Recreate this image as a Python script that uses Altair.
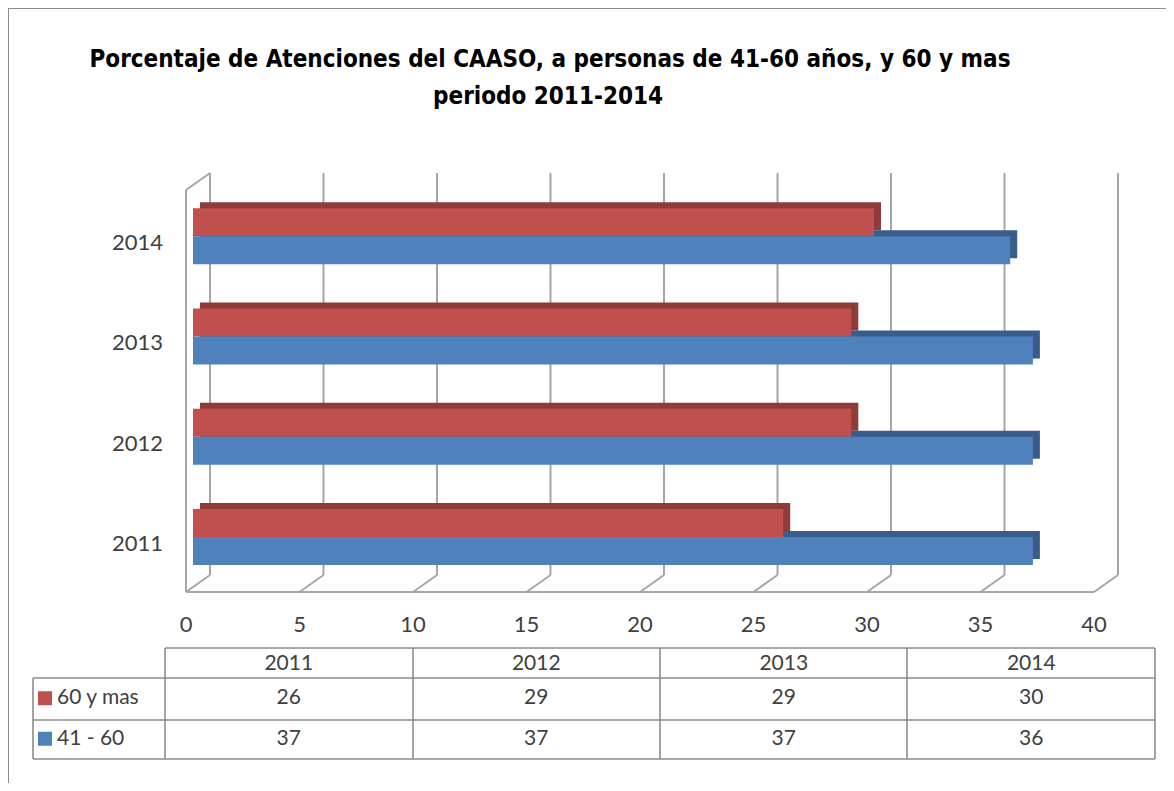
import altair as alt
import pandas as pd

# ---------------- data ----------------
years = ["2011", "2012", "2013", "2014"]
series = ["60 y mas", "41 - 60"]
mas60 = [26, 29, 29, 30]
v41_60 = [37, 37, 37, 36]
ticks = [0, 5, 10, 15, 20, 25, 30, 35, 40]
title_lines = ["Porcentaje de Atenciones del CAASO, a personas de 41-60 años, y 60 y mas",
               "periodo 2011-2014"]

RED, RED_D = "#c0504d", "#8e3b39"
BLUE, BLUE_D = "#4f81bd", "#385d8a"
GRID = "#a6a6a6"
TXT = "#404040"
FONT = "Lato"
TFONT = "Liberation Sans Narrow, DejaVu Sans Condensed, Liberation Sans"

W, H = 1158, 775

df_red = pd.DataFrame({"year": years, "value": mas60, "series": series[0]})
df_blue = pd.DataFrame({"year": years, "value": v41_60, "series": series[1]})
df_long = pd.concat([df_red, df_blue], ignore_index=True)
df_ticks = pd.DataFrame({"t": ticks})
df_span = pd.DataFrame({"a": [ticks[0]], "b": [ticks[-1]]})
df_years = pd.DataFrame({"year": years})
df_series = pd.DataFrame({"series": series})
one = pd.DataFrame({"d": [0]})

xs = alt.Scale(domain=[0, 40], range=[185, 1093], nice=False, zero=True)
ys = alt.Scale(domain=years[::-1], range=[178, 579], paddingInner=0, paddingOuter=0)

X = lambda f: alt.X(f, type="quantitative", scale=xs, axis=None)
Y = alt.Y("year:O", scale=ys, axis=None)

# ---------------- 3D frame (walls / floor / gridlines) ----------------
grid = alt.Chart(df_ticks).mark_rule(color=GRID, strokeWidth=2, xOffset=17).encode(
    x=X("t"), y=alt.value(165), y2=alt.value(567))
diag = alt.Chart(df_ticks).mark_rule(color=GRID, strokeWidth=2, xOffset=-7, x2Offset=17).encode(
    x=X("t"), x2=alt.X2("t"), y=alt.value(584), y2=alt.value(567))
floor = alt.Chart(df_span).mark_rule(color=GRID, strokeWidth=2, xOffset=-7, x2Offset=-7).encode(
    x=X("a"), x2=alt.X2("b"), y=alt.value(584))
wallv = alt.Chart(df_span).mark_rule(color=GRID, strokeWidth=2, xOffset=-7).encode(
    x=X("a"), y=alt.value(182), y2=alt.value(584))
walld = alt.Chart(df_span).mark_rule(color=GRID, strokeWidth=2, xOffset=-7, x2Offset=17).encode(
    x=X("a"), x2=alt.X2("a"), y=alt.value(182), y2=alt.value(165))

# ---------------- bars with pseudo-3D faces ----------------
sh_red = alt.Chart(df_red).mark_bar(height=28, yOffset=-20, xOffset=7, x2Offset=7, color=RED_D).encode(
    x=X("value"), y=Y)
sh_blue = alt.Chart(df_blue).mark_bar(height=28, yOffset=8, xOffset=7, x2Offset=7, color=BLUE_D).encode(
    x=X("value"), y=Y)
b_red = alt.Chart(df_red).mark_bar(height=28, yOffset=-14, color=RED).encode(x=X("value"), y=Y)
b_blue = alt.Chart(df_blue).mark_bar(height=28, yOffset=14, color=BLUE).encode(x=X("value"), y=Y)

tick_lbl = alt.Chart(df_ticks).mark_text(font=FONT, fontSize=22, color=TXT, xOffset=-7,
                                         baseline="middle").encode(
    x=X("t"), y=alt.value(617), text=alt.Text("t:Q"))
year_lbl = alt.Chart(df_years).mark_text(font=FONT, fontSize=22, color=TXT, align="right",
                                         baseline="middle", yOffset=7).encode(
    x=alt.value(155), y=Y, text="year:N")

plot = alt.layer(grid, diag, floor, wallv, walld, sh_red, sh_blue, b_red, b_blue, tick_lbl, year_lbl)

# ---------------- data table ----------------
xt = alt.Scale(domain=years, range=[157, 1147], paddingInner=0, paddingOuter=0)
yt = alt.Scale(domain=series, range=[670, 751], paddingInner=0, paddingOuter=0)
hdr = alt.Chart(df_years).mark_text(font=FONT, fontSize=21, color=TXT, baseline="middle").encode(
    x=alt.X("year:N", scale=xt, axis=None), y=alt.value(656), text="year:N")
vals = alt.Chart(df_long).mark_text(font=FONT, fontSize=21, color=TXT, baseline="middle").encode(
    x=alt.X("year:N", scale=xt, axis=None), y=alt.Y("series:N", scale=yt, axis=None),
    text="value:Q")
leg_sq = alt.Chart(df_series).mark_square(size=196, opacity=1).encode(
    x=alt.value(37), y=alt.Y("series:N", scale=yt, axis=None),
    color=alt.Color("series:N", scale=alt.Scale(domain=series, range=[RED, BLUE]), legend=None))
leg_tx = alt.Chart(df_series).mark_text(font=FONT, fontSize=21, color=TXT, align="left",
                                        baseline="middle").encode(
    x=alt.value(49), y=alt.Y("series:N", scale=yt, axis=None), text="series:N")
table = alt.layer(hdr, vals, leg_sq, leg_tx)

# ---------------- decorations: table grid, frame, title ----------------
LC = "#8c8c8c"
def hline(y, x1, x2):
    return alt.Chart(one).mark_rule(color=LC, strokeWidth=1.6).encode(
        x=alt.value(x1), x2=alt.value(x2), y=alt.value(y))
def vline(x, y1, y2):
    return alt.Chart(one).mark_rule(color=LC, strokeWidth=1.6).encode(
        x=alt.value(x), y=alt.value(y1), y2=alt.value(y2))

lines = [hline(640, 157, 1147), hline(670, 25, 1147), hline(712, 25, 1147), hline(751, 25, 1147),
         vline(25, 670, 751), vline(157, 640, 751), vline(405, 640, 751), vline(652, 640, 751),
         vline(899, 640, 751), vline(1147, 640, 751)]

frame = alt.Chart(one).mark_rect(fill=None, stroke="#8c8c8c", strokeWidth=2).encode(
    x=alt.value(0), y=alt.value(0), x2=alt.value(W + 40), y2=alt.value(H + 40))
t1 = alt.Chart(one).mark_text(text=title_lines[0], font=TFONT, fontSize=24, fontWeight="bold",
                              color="#000000", baseline="middle").encode(
    x=alt.value(542), y=alt.value(52))
t2 = alt.Chart(one).mark_text(text=title_lines[1], font=TFONT, fontSize=24, fontWeight="bold",
                              color="#000000", baseline="middle").encode(
    x=alt.value(540), y=alt.value(89))
deco = alt.layer(frame, t1, t2, *lines)

chart = alt.layer(plot, table, deco).resolve_scale(x="independent", y="independent").properties(
    width=W, height=H, padding=0, autosize=alt.AutoSizeParams(type="none")
).configure_view(stroke=None)

chart.save("out.html", embed_options={"renderer": "svg", "actions": False})
